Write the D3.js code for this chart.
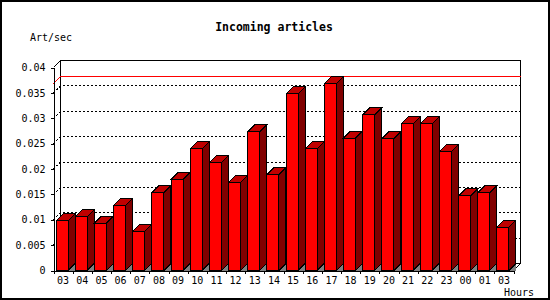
<!DOCTYPE html>
<html>
<head>
<meta charset="utf-8">
<script src="https://cdn.jsdelivr.net/npm/d3@7"></script>
<style>
  body { margin: 0; background: #fff; }
  text { font-family: "DejaVu Sans Mono", monospace; fill: #000; }
</style>
</head>
<body>
<svg id="chart"></svg>
<script>
// data
var hours = ["03", "04", "05", "06", "07", "08", "09", "10", "11", "12", "13", "14",
             "15", "16", "17", "18", "19", "20", "21", "22", "23", "00", "01", "03"];
var artPerSec = [0.0098, 0.0106, 0.0093, 0.0128, 0.0077, 0.0153, 0.0179, 0.0240,
                 0.0212, 0.0173, 0.0273, 0.0189, 0.0348, 0.0240, 0.0368, 0.0261,
                 0.0307, 0.0260, 0.0289, 0.0289, 0.0234, 0.0147, 0.0153, 0.0085];
var yTicks = [0, 0.005, 0.01, 0.015, 0.02, 0.025, 0.03, 0.035, 0.04];
var yTickLabels = ["0", "0.005", "0.01", "0.015", "0.02", "0.025", "0.03", "0.035", "0.04"];

var width = 550;
var height = 300;
var depth = 7;   // 3d offset of the back wall

var svg = d3.select("#chart")
  .attr("width", width)
  .attr("height", height);

// outer frame
svg.append("rect")
  .attr("x", 1).attr("y", 1)
  .attr("width", width - 2).attr("height", height - 2)
  .attr("fill", "#fff")
  .attr("stroke", "#000")
  .attr("stroke-width", 2);

var x = d3.scaleBand()
  .domain(d3.range(hours.length))
  .range([53.5, 513.5]);
var xEdge = d3.scaleLinear()
  .domain([0, hours.length])
  .range([53.5, 513.5]);
var y = d3.scaleLinear()
  .domain([0, 0.04])
  .range([270.5, 67.5]);

var plot = svg.append("g").attr("shape-rendering", "crispEdges");

// back wall
plot.append("rect")
  .attr("x", 53.5 + depth).attr("y", y(0.04) - depth)
  .attr("width", 460).attr("height", y(0) - y(0.04))
  .attr("fill", "none")
  .attr("stroke", "#000");

// dotted grid on the back wall + connectors to the front axis
var grid = yTicks.slice(1, yTicks.length - 1);
plot.selectAll(".grid")
  .data(grid)
  .enter()
  .append("path")
  .attr("class", "grid")
  .attr("d", function(d) {
    return "M53.5," + y(d) + "L" + (53.5 + depth) + "," + (y(d) - depth) +
      "H" + (513.5 + depth);
  })
  .attr("fill", "none")
  .attr("stroke", "#000")
  .attr("stroke-dasharray", "2,2");

// max line
var maxVal = d3.max(artPerSec);
plot.append("path")
  .attr("d", "M53.5," + y(maxVal) + "L" + (53.5 + depth) + "," + (y(maxVal) - depth) +
    "H" + (513.5 + depth))
  .attr("fill", "none")
  .attr("stroke", "#f00");

// top-left and bottom-right box corners
plot.append("path")
  .attr("d", "M53.5," + y(0.04) + "l" + depth + "," + (-depth) +
    "M513.5," + y(0) + "l" + depth + "," + (-depth))
  .attr("fill", "none")
  .attr("stroke", "#000");

// 3d bars
var bars = plot.selectAll(".bar")
  .data(artPerSec)
  .enter()
  .append("g")
  .attr("class", "bar");

function pts(p) {
  return p.map(function(q) { return q.join(","); }).join(" ");
}

bars.each(function(d, i) {
  var g = d3.select(this);
  var xl = x(i) + 2.5;
  var xr = xl + 12;
  var y0 = y(0);
  var yt = y(d);
  g.append("polygon")
    .attr("points", pts([[xr, y0], [xr + depth, y0 - depth], [xr + depth, y0]]))
    .attr("fill", "#808080");
  g.append("polygon")
    .attr("points", pts([[xr, y0], [xr + depth, y0 - depth], [xr + depth, yt - depth], [xr, yt]]))
    .attr("fill", "#800000")
    .attr("stroke", "#000");
  g.append("polygon")
    .attr("points", pts([[xl, yt], [xl + depth, yt - depth], [xr + depth, yt - depth], [xr, yt]]))
    .attr("fill", "#c00000")
    .attr("stroke", "#000");
  g.append("rect")
    .attr("x", xl).attr("y", yt)
    .attr("width", xr - xl).attr("height", y0 - yt)
    .attr("fill", "#f00")
    .attr("stroke", "#000");
});

// axes
var yAxis = svg.append("g")
  .attr("transform", "translate(53.5,0)")
  .call(d3.axisLeft(y)
    .tickValues(yTicks)
    .tickSize(3)
    .tickSizeOuter(0)
    .tickPadding(5)
    .tickFormat(function(d, i) { return yTickLabels[i]; }));
yAxis.select(".domain").attr("shape-rendering", "crispEdges");
yAxis.selectAll("line").attr("shape-rendering", "crispEdges");
yAxis.selectAll("text")
  .style("font-family", "DejaVu Sans Mono")
  .style("font-size", "10px");

var xTicks = svg.append("g")
  .attr("transform", "translate(0,270.5)")
  .call(d3.axisBottom(xEdge)
    .tickValues(d3.range(hours.length + 1))
    .tickSize(3)
    .tickSizeOuter(0)
    .tickFormat(""));
xTicks.selectAll("line,path").attr("shape-rendering", "crispEdges");

var xAxis = svg.append("g")
  .attr("transform", "translate(0,270.5)")
  .call(d3.axisBottom(x)
    .tickSize(0)
    .tickPadding(6)
    .tickFormat(function(d, i) { return hours[i]; }));
xAxis.select(".domain").remove();
xAxis.selectAll("text")
  .style("font-family", "DejaVu Sans Mono")
  .style("font-size", "10px");

// titles
svg.append("text")
  .attr("x", 274)
  .attr("y", 31)
  .attr("text-anchor", "middle")
  .style("font-size", "11.5px")
  .style("font-weight", "bold")
  .text("Incoming articles");

svg.append("text")
  .attr("x", 30)
  .attr("y", 41)
  .style("font-size", "10px")
  .text("Art/sec");

svg.append("text")
  .attr("x", 534)
  .attr("y", 296)
  .attr("text-anchor", "end")
  .style("font-size", "10px")
  .text("Hours");
</script>
</body>
</html>
